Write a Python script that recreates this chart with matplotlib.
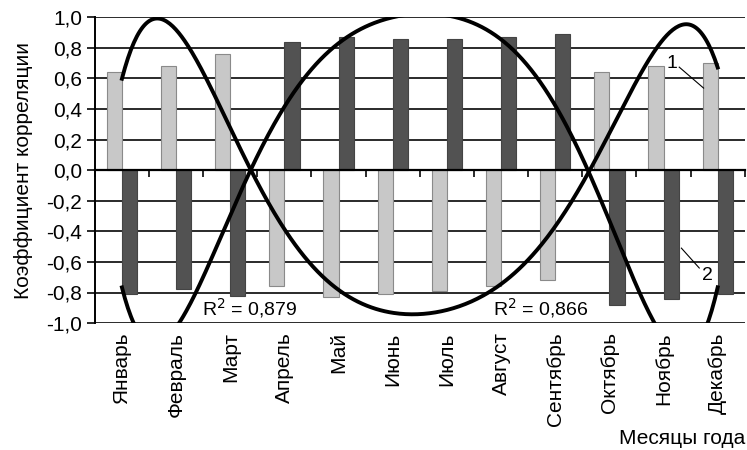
import numpy as np
import matplotlib.pyplot as plt
import matplotlib.transforms as mtransforms

plt.rcParams['font.family'] = ['Liberation Sans', 'DejaVu Sans']

months = ['Январь', 'Февраль', 'Март', 'Апрель', 'Май', 'Июнь',
          'Июль', 'Август', 'Сентябрь', 'Октябрь', 'Ноябрь', 'Декабрь']
series1 = [0.64, 0.68, 0.76, -0.76, -0.83, -0.81, -0.79, -0.76, -0.72, 0.64, 0.68, 0.70]
series2 = [-0.81, -0.78, -0.82, 0.84, 0.87, 0.86, 0.86, 0.87, 0.89, -0.88, -0.84, -0.81]
r2_labels = ['R$^2$ = 0,879', 'R$^2$ = 0,866']
yticks = [-1.0, -0.8, -0.6, -0.4, -0.2, 0.0, 0.2, 0.4, 0.6, 0.8, 1.0]

x = np.arange(1, len(months) + 1)
bw = 0.28

fig = plt.figure(figsize=(7.47, 4.5), dpi=100)
ax = fig.add_axes([0.127, 0.282, 0.87, 0.68])

# horizontal grid
for yv in yticks:
    ax.axhline(yv, color='#2a2a2a', lw=1.4, zorder=1)

ax.bar(x - bw / 2, series1, width=bw, color='#c8c8c8', edgecolor='#8a8a8a', lw=0.8, zorder=2)
ax.bar(x + bw / 2, series2, width=bw, color='#525252', edgecolor='#444444', lw=0.8, zorder=2)

# polynomial trend lines (6th order)
xs = np.linspace(1, 12, 400)
for s in (series1, series2):
    coef = np.polyfit(x, s, 6)
    ax.plot(xs, np.polyval(coef, xs), color='black', lw=2.8, zorder=3)

ax.set_xlim(0.5, 12.5)
ax.set_ylim(-1.0, 1.0)
ax.set_yticks(yticks)
ax.set_yticklabels([f'{v:.1f}'.replace('.', ',') for v in yticks], fontsize=15)
ax.tick_params(axis='y', direction='out', length=6, width=1.4, color='#2a2a2a', pad=3)

ax.spines['top'].set_visible(False)
ax.spines['right'].set_visible(False)
ax.spines['left'].set_linewidth(1.4)
ax.spines['bottom'].set_position(('data', 0))
ax.spines['bottom'].set_linewidth(1.6)
ax.spines['bottom'].set_zorder(4)
ax.set_xticks(np.arange(0.5, 13, 1))
ax.set_xticklabels([])
ax.tick_params(axis='x', direction='out', length=5, width=1.4, color='#2a2a2a')

trans = mtransforms.blended_transform_factory(ax.transData, ax.transAxes)
for xi, m in zip(x, months):
    ax.text(xi, -0.03, m, transform=trans, rotation=90, ha='center', va='top', fontsize=15)

ax.set_ylabel('Коэффициент корреляции', fontsize=15, labelpad=10)
fig.text(0.998, 0.005, 'Месяцы года', ha='right', va='bottom', fontsize=15)

ax.text(3.36, -0.9, r2_labels[0], ha='center', va='center', fontsize=14, zorder=5)
ax.text(8.73, -0.9, r2_labels[1], ha='center', va='center', fontsize=14, zorder=5)

# series markers
ax.text(11.16, 0.70, '1', ha='center', va='center', fontsize=14, zorder=5)
ax.plot([11.29, 11.74], [0.673, 0.536], color='black', lw=0.8, zorder=5)
ax.text(11.81, -0.686, '2', ha='center', va='center', fontsize=14, zorder=5)
ax.plot([11.33, 11.66], [-0.51, -0.64], color='black', lw=0.8, zorder=5)

fig.savefig('out.png', dpi=100)
